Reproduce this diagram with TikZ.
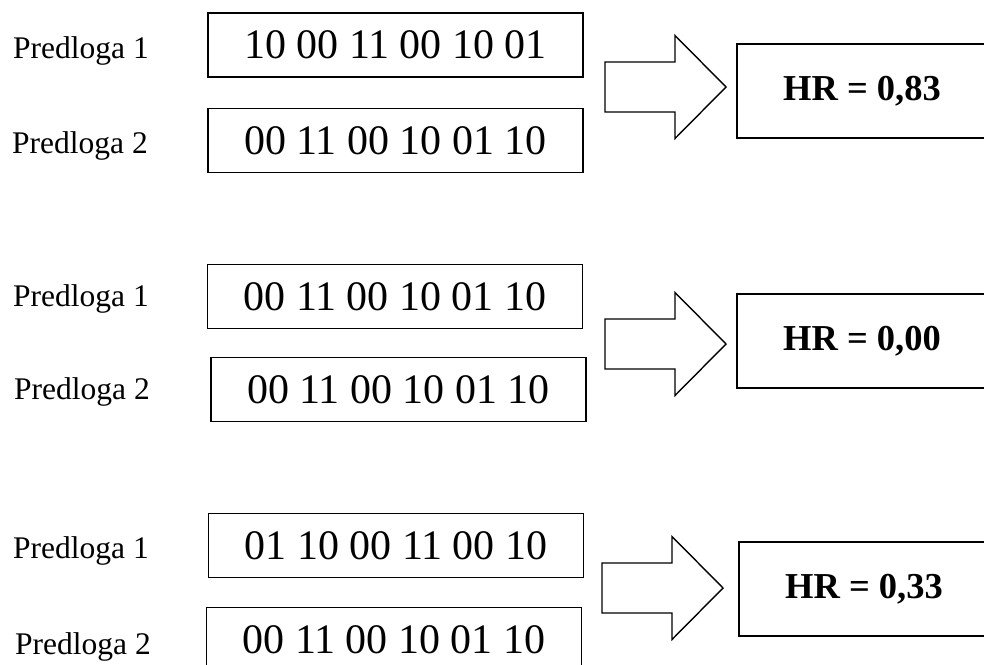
\documentclass[tikz,border=0pt]{standalone}
\usepackage{fontspec}
\setmainfont{Liberation Serif}

\tikzset{
  predloga/.style={anchor=base west, inner sep=0pt,
    font=\fontsize{31.5}{36}\selectfont},
  bits/.style={draw, line width=1.8pt, inner sep=0pt,
    minimum width=375pt, minimum height=64pt,
    font=\fontsize{42}{48}\selectfont},
  result/.style={draw, line width=1.8pt, inner sep=0pt,
    minimum width=250pt, minimum height=94pt,
    font=\bfseries\fontsize{36.5}{44}\selectfont},
  hollow/.style={draw, line width=1.4pt, line join=miter}
}

\begin{document}
\begin{tikzpicture}[x=1pt, y=-1pt]
\useasboundingbox (0,0) rectangle (984,664);
\clip (0,0) rectangle (984,664);

\pgfmathsetmacro\shaftHalf{25};
\pgfmathsetmacro\headHalf{51.5};
\pgfmathsetmacro\arrowLength{121};
\pgfmathsetmacro\headLength{51};

% tip of each block arrow
\pgfmathsetmacro\xA{726};
\pgfmathsetmacro\yA{87};
\pgfmathsetmacro\xB{726};
\pgfmathsetmacro\yB{344};
\pgfmathsetmacro\xC{723};
\pgfmathsetmacro\yC{588};

% first pair
\node [predloga] (predA1) at (13, 58) {Predloga 1};
\node [predloga] (predA2) at (12, 153) {Predloga 2};
\node [bits] (bitsA1) at (395.5, 45) {10 00 11 00 10 01};
\node [bits] (bitsA2) at (395.5, 140.5) {00 11 00 10 01 10};
\node [result] (hrA) at (862, 91) {HR = 0,83};

\draw [hollow]
  (\xA-\arrowLength, \yA-\shaftHalf) to
  (\xA-\headLength, \yA-\shaftHalf) to
  (\xA-\headLength, \yA-\headHalf) to
  (\xA, \yA) to
  (\xA-\headLength, \yA+\headHalf) to
  (\xA-\headLength, \yA+\shaftHalf) to
  (\xA-\arrowLength, \yA+\shaftHalf) -- cycle;

% second pair
\node [predloga] (predB1) at (13, 306) {Predloga 1};
\node [predloga] (predB2) at (14, 399) {Predloga 2};
\node [bits] (bitsB1) at (395, 296.5) {00 11 00 10 01 10};
\node [bits] (bitsB2) at (398.5, 389.5) {00 11 00 10 01 10};
\node [result] (hrB) at (862, 341) {HR = 0,00};

\draw [hollow]
  (\xB-\arrowLength, \yB-\shaftHalf) to
  (\xB-\headLength, \yB-\shaftHalf) to
  (\xB-\headLength, \yB-\headHalf) to
  (\xB, \yB) to
  (\xB-\headLength, \yB+\headHalf) to
  (\xB-\headLength, \yB+\shaftHalf) to
  (\xB-\arrowLength, \yB+\shaftHalf) -- cycle;

% third pair
\node [predloga] (predC1) at (13, 558) {Predloga 1};
\node [predloga] (predC2) at (15, 654) {Predloga 2};
\node [bits] (bitsC1) at (396, 545.5) {01 10 00 11 00 10};
\node [bits] (bitsC2) at (394, 639.5) {00 11 00 10 01 10};
\node [result] (hrC) at (864, 589) {HR = 0,33};

\draw [hollow]
  (\xC-\arrowLength, \yC-\shaftHalf) to
  (\xC-\headLength, \yC-\shaftHalf) to
  (\xC-\headLength, \yC-\headHalf) to
  (\xC, \yC) to
  (\xC-\headLength, \yC+\headHalf) to
  (\xC-\headLength, \yC+\shaftHalf) to
  (\xC-\arrowLength, \yC+\shaftHalf) -- cycle;

\end{tikzpicture}
\end{document}
